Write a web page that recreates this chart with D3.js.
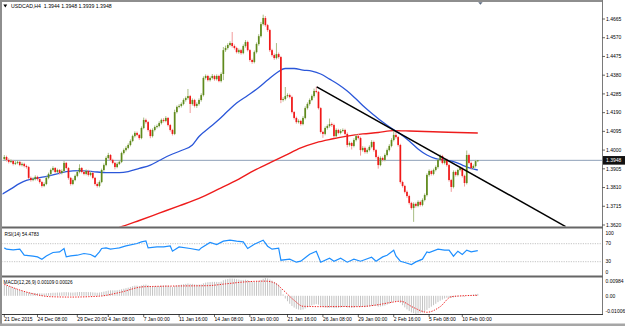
<!DOCTYPE html>
<html><head><meta charset="utf-8">
<script src="https://cdn.jsdelivr.net/npm/d3@7"></script>
<style>
html,body{margin:0;padding:0;background:#fff;overflow:hidden}
text{font-family:"Liberation Sans",Arial,sans-serif;}
</style>
</head><body>
<svg id="c" width="625" height="326"></svg>
<script>
// ---------------- DATA ----------------
const symbol = "USDCAD,H4";
const firstOpen = 1.3955;
const closes = [1.3965,1.3950,1.3940,1.3945,1.3930,1.3935,1.3940,1.3924,1.3930,1.3919,
1.3914,1.3859,1.3848,1.3853,1.3864,1.3853,1.3838,1.3818,1.3828,1.3859,
1.3879,1.3899,1.3909,1.3889,1.3899,1.3884,1.3894,1.3935,1.3909,1.3859,
1.3828,1.3848,1.3869,1.3889,1.3909,1.3889,1.3879,1.3894,1.3874,1.3884,
1.3859,1.3828,1.3818,1.3838,1.3899,1.3924,1.3960,1.3975,1.3950,1.3935,
1.3914,1.3930,1.3940,1.3985,1.4000,1.4011,1.4026,1.4046,1.4071,1.4087,
1.4077,1.4061,1.4112,1.4153,1.4142,1.4102,1.4071,1.4102,1.4117,1.4122,
1.4137,1.4153,1.4148,1.4163,1.4127,1.4102,1.4082,1.4193,1.4219,1.4224,
1.4234,1.4254,1.4264,1.4274,1.4234,1.4254,1.4224,1.4234,1.4254,1.4279,
1.4366,1.4376,1.4355,1.4366,1.4376,1.4360,1.4376,1.4350,1.4386,1.4507,
1.4518,1.4533,1.4543,1.4528,1.4518,1.4497,1.4507,1.4492,1.4528,1.4548,
1.4507,1.4457,1.4447,1.4497,1.4538,1.4578,1.4639,1.4670,1.4634,1.4609,
1.4507,1.4482,1.4467,1.4487,1.4472,1.4254,1.4259,1.4274,1.4279,1.4269,
1.4193,1.4163,1.4142,1.4148,1.4132,1.4163,1.4213,1.4234,1.4254,1.4274,
1.4300,1.4295,1.4213,1.4092,1.4082,1.4112,1.4122,1.4132,1.4127,1.4071,
1.4102,1.4087,1.4097,1.4102,1.4082,1.4026,1.4036,1.4021,1.4051,1.4071,
1.4061,1.4000,1.4011,1.3990,1.4000,1.4016,1.4041,1.4000,1.3965,1.3924,
1.3960,1.3950,1.3975,1.4000,1.4021,1.4051,1.4077,1.4066,1.4026,1.3838,
1.3818,1.3788,1.3767,1.3732,1.3706,1.3727,1.3717,1.3737,1.3722,1.3747,
1.3772,1.3874,1.3894,1.3879,1.3899,1.3914,1.3950,1.3970,1.3935,1.3950,
1.3924,1.3848,1.3813,1.3889,1.3874,1.3899,1.3909,1.3869,1.3833,1.3975,
1.3935,1.3909,1.3919,1.3944,1.3948];
const highs = [1.3975,1.3972,1.3958,1.3953,1.3950,1.3944,1.3949,1.3946,1.3938,1.3936,
1.3926,1.3920,1.3866,1.3862,1.3872,1.3870,1.3858,1.3844,1.3836,1.3866,
1.3886,1.3906,1.3918,1.3914,1.3906,1.3904,1.3902,1.3945,1.3940,1.3914,
1.3864,1.3856,1.3876,1.3896,1.3928,1.3914,1.3896,1.3902,1.3900,1.3892,
1.3890,1.3864,1.3836,1.3846,1.3906,1.3932,1.3968,1.3986,1.3980,1.3956,
1.3940,1.3938,1.3948,1.3992,1.4008,1.4020,1.4034,1.4054,1.4078,1.4095,
1.4094,1.4082,1.4120,1.4165,1.4160,1.4148,1.4108,1.4110,1.4125,1.4130,
1.4146,1.4160,1.4162,1.4172,1.4168,1.4133,1.4108,1.4205,1.4226,1.4233,
1.4242,1.4262,1.4272,1.4310,1.4280,1.4262,1.4260,1.4242,1.4262,1.4288,
1.4374,1.4384,1.4382,1.4374,1.4386,1.4382,1.4384,1.4382,1.4394,1.4523,
1.4530,1.4542,1.4552,1.4599,1.4536,1.4524,1.4515,1.4514,1.4536,1.4558,
1.4555,1.4512,1.4464,1.4505,1.4546,1.4588,1.4650,1.4687,1.4680,1.4640,
1.4615,1.4514,1.4490,1.4543,1.4495,1.4478,1.4268,1.4320,1.4288,1.4286,
1.4276,1.4198,1.4170,1.4156,1.4154,1.4172,1.4222,1.4242,1.4262,1.4282,
1.4312,1.4322,1.4300,1.4218,1.4098,1.4120,1.4130,1.4160,1.4140,1.4134,
1.4110,1.4108,1.4106,1.4110,1.4108,1.4090,1.4044,1.4042,1.4060,1.4080,
1.4082,1.4068,1.4020,1.4018,1.4008,1.4024,1.4050,1.4048,1.4006,1.3972,
1.3968,1.3967,1.3983,1.4008,1.4030,1.4060,1.4100,1.4092,1.4072,1.4032,
1.3845,1.3824,1.3795,1.3774,1.3738,1.3735,1.3734,1.3745,1.3744,1.3755,
1.3780,1.3882,1.3902,1.3900,1.3906,1.3922,1.3958,1.3978,1.3976,1.3958,
1.3957,1.3930,1.3854,1.3897,1.3896,1.3906,1.3918,1.3915,1.3875,1.3998,
1.3982,1.3942,1.3927,1.3950,1.3948];
const lows = [1.3948,1.3942,1.3932,1.3934,1.3922,1.3924,1.3928,1.3918,1.3917,1.3912,
1.3906,1.3852,1.3840,1.3842,1.3846,1.3845,1.3830,1.3810,1.3812,1.3822,
1.3852,1.3872,1.3892,1.3882,1.3882,1.3876,1.3877,1.3888,1.3902,1.3850,
1.3820,1.3822,1.3842,1.3862,1.3882,1.3882,1.3872,1.3872,1.3866,1.3867,
1.3852,1.3820,1.3810,1.3811,1.3832,1.3892,1.3918,1.3953,1.3943,1.3928,
1.3902,1.3908,1.3924,1.3934,1.3978,1.3993,1.4004,1.4019,1.4040,1.4064,
1.4070,1.4052,1.4055,1.4106,1.4134,1.4094,1.4060,1.4064,1.4095,1.4110,
1.4115,1.4130,1.4140,1.4141,1.4120,1.4094,1.4074,1.4076,1.4186,1.4212,
1.4216,1.4227,1.4246,1.4256,1.4188,1.4226,1.4216,1.4214,1.4226,1.4246,
1.4272,1.4358,1.4348,1.4348,1.4358,1.4352,1.4353,1.4344,1.4343,1.4355,
1.4498,1.4510,1.4526,1.4520,1.4510,1.4490,1.4489,1.4484,1.4486,1.4520,
1.4500,1.4448,1.4438,1.4440,1.4490,1.4530,1.4571,1.4632,1.4626,1.4600,
1.4498,1.4474,1.4458,1.4460,1.4464,1.4238,1.4246,1.4252,1.4266,1.4262,
1.4186,1.4155,1.4134,1.4135,1.4124,1.4126,1.4156,1.4206,1.4226,1.4248,
1.4266,1.4288,1.4206,1.4084,1.4062,1.4075,1.4104,1.4114,1.4118,1.4062,
1.4064,1.4080,1.4080,1.4090,1.4074,1.4014,1.4018,1.4003,1.4014,1.4044,
1.4054,1.3972,1.3992,1.3982,1.3982,1.3993,1.4009,1.3992,1.3957,1.3906,
1.3918,1.3942,1.3943,1.3968,1.3993,1.4014,1.4044,1.4058,1.4018,1.3830,
1.3810,1.3780,1.3758,1.3724,1.3698,1.3636,1.3708,1.3710,1.3714,1.3715,
1.3740,1.3765,1.3866,1.3871,1.3872,1.3892,1.3906,1.3943,1.3928,1.3927,
1.3916,1.3840,1.3788,1.3806,1.3866,1.3867,1.3892,1.3861,1.3815,1.3826,
1.3927,1.3900,1.3902,1.3912,1.3939];

// Moving averages (bar index, price)
const maFastIdx = [-1,3,7,10,14,18,22,28,34,40,46,52,56,61,66,70,75,80,85,88,93,97,101,105,110,115,119,123,127,131,135,139,143,147,151,155,159,163,167,171,175,179,183,187,191,195,199,203,207,211,214];
const maFastVal = [1.3776,1.3803,1.3831,1.3846,1.3856,1.3864,1.3874,1.3891,1.3896,1.3891,1.3886,1.3886,1.3891,1.3907,1.3924,1.3947,1.3975,1.3998,1.4026,1.4069,1.4117,1.4155,1.4198,1.4239,1.4277,1.4317,1.4355,1.4391,1.4414,1.4414,1.4406,1.4401,1.4386,1.4360,1.4333,1.4300,1.4259,1.4216,1.4178,1.4142,1.4110,1.4082,1.4046,1.4006,1.3975,1.3957,1.3950,1.3942,1.3924,1.3907,1.3899];
const maSlowIdx = [45,52,61,70,79,88,97,106,113,120,127,134,141,148,155,162,169,176,183,190,197,205,214];
const maSlowVal = [1.3587,1.3608,1.3643,1.3680,1.3717,1.3755,1.3803,1.3853,1.3897,1.3935,1.3973,1.4011,1.4038,1.4056,1.4071,1.4082,1.4089,1.4099,1.4097,1.4094,1.4092,1.4089,1.4087];

// Trend line anchor points (bar index, price)
const trendIdx = [141.2, 253.7];
const trendVal = [1.4321, 1.3612];

// Price axis ticks
const priceTicks = [1.4665,1.4570,1.4475,1.4380,1.4285,1.4190,1.4095,1.4000,1.3905,1.3810,1.3715,1.3620];

// Time axis
const timeTickIdx = [0,15,33,47,63,79,95,111,128,144,160,176,192,207];
const timeTickLabels = ["21 Dec 2015","24 Dec 08:00","29 Dec 20:00","4 Jan 08:00","7 Jan 00:00","11 Jan 16:00","14 Jan 08:00","19 Jan 00:00","21 Jan 16:00","26 Jan 08:00","29 Jan 00:00","2 Feb 16:00","5 Feb 08:00","10 Feb 00:00"];

// RSI(14)
const rsiIdx = [0,1,4,7,9,13,15,17,19,22,25,27,28,30,33,36,39,41,43,44,46,48,50,52,55,60,62,64,65,69,72,75,76,79,84,88,89,93,96,99,102,105,108,110,113,117,119,121,124,125,129,132,134,138,141,143,147,149,152,155,158,161,166,168,171,173,176,177,179,181,184,186,189,191,192,196,199,201,203,205,207,209,211,214];
const rsiVal = [60.7,57.8,56.2,57.8,44.4,42.2,40.7,35.6,42.9,50.4,51.8,59.3,40.7,42.9,44.4,48.2,46.0,40.7,51.8,59.3,60.7,57.8,59.3,60.7,65.1,70.4,74.0,76.2,60.7,62.9,62.9,65.1,53.3,62.9,59.3,55.6,60.7,72.7,68.2,75.6,77.8,75.6,74.0,59.3,68.9,77.8,64.4,57.8,60.0,33.3,35.6,28.9,31.1,46.7,53.3,28.9,37.8,31.1,37.8,28.9,35.6,31.1,40.0,31.1,40.7,44.4,55.6,42.9,31.1,28.2,23.8,29.6,35.6,51.8,50.4,57.8,55.6,55.6,42.2,53.3,46.0,55.6,51.8,54.48];
const rsiLast = "54.4783";
const rsiLevels = [70, 30];
const rsiTicks = [100, 70, 30, 0];

// MACD(12,26,9)
const macdHist = [
0.0062,0.0058,0.0054,0.0050,0.0045,0.0040,0.0036,0.0031,0.0027,0.0023,0.0020,
0.0018,0.0017,0.0016,0.0015,0.0015,0.0014,
0.0013,0.0013,0.0014,0.0015,0.0016,0.0017,
0.0017,0.0018,0.0018,0.0019,0.0020,0.0020,0.0019,0.0018,
0.0018,0.0019,0.0020,0.0021,0.0021,0.0021,0.0021,0.0020,0.0020,0.0019,
0.0018,0.0017,0.0018,
0.0020,0.0023,0.0026,0.0029,0.0030,0.0030,0.0030,0.0031,0.0033,0.0036,0.0039,0.0042,
0.0045,0.0049,0.0053,0.0056,0.0056,0.0054,0.0057,0.0061,0.0062,0.0059,
0.0054,0.0053,0.0053,0.0053,0.0054,0.0056,0.0057,0.0058,0.0056,0.0052,0.0048,
0.0054,0.0058,0.0060,0.0062,0.0064,0.0066,0.0068,0.0066,0.0066,0.0063,0.0062,0.0062,0.0063,
0.0069,0.0073,0.0075,0.0076,0.0077,0.0077,0.0077,0.0076,0.0078,0.0086,
0.0090,0.0093,0.0095,0.0095,0.0094,0.0092,0.0090,0.0088,0.0088,0.0089,0.0087,
0.0082,0.0077,0.0076,0.0078,0.0082,0.0088,0.0094,0.00984,0.0096,
0.0090,0.0084,0.0077,0.0070,0.0062,0.0036,0.0008,
-0.0015,-0.0030,-0.0044,-0.0056,-0.0065,-0.0072,-0.0076,-0.0078,-0.0076,-0.0070,-0.0064,-0.0058,-0.0053,-0.0049,-0.0046,-0.0049,
-0.0056,-0.0062,-0.0065,-0.0066,-0.0066,-0.0065,-0.0068,-0.0068,
-0.0067,-0.0065,-0.0063,-0.0062,-0.0065,-0.0066,-0.0067,-0.0065,-0.0062,-0.0060,
-0.0062,-0.0062,-0.0063,-0.0062,-0.0060,-0.0056,-0.0055,-0.0056,-0.0060,-0.0059,
-0.0057,-0.0054,-0.0049,-0.0044,-0.0038,-0.0032,-0.0028,-0.0028,
-0.0040,-0.0052,-0.0064,-0.0075,-0.0084,-0.0092,-0.0096,-0.01006,-0.0098,-0.0096,-0.0093,-0.0088,
-0.0078,-0.0068,-0.0060,-0.0052,-0.0044,-0.0035,-0.0027,-0.0021,-0.0015,-0.0011,
-0.0010,-0.0012,-0.0009,-0.0007,-0.0005,-0.0003,-0.0003,-0.0005,0.0000,0.0003,0.0005,0.0007,0.0009,0.00109];
const sigIdx = [0,7,13,21,30,43,52,63,77,92,100,110,118,122,126,131,135,144,152,160,168,175,179,185,191,197,202,207,214];
const sigVal = [0.0064,0.0032,0.0011,-0.0005,-0.0007,-0.0002,0.0018,0.0050,0.0054,0.0056,0.0066,0.0078,0.0081,0.0072,0.0032,-0.0025,-0.0058,-0.0060,-0.0059,-0.0060,-0.0051,-0.0036,-0.0030,-0.0065,-0.0091,-0.0060,-0.0005,0.0000,0.00026];
const macdTicks = [0.00984, 0.00, -0.01006];
const macdTickLabels = ["0.00984", "0.00", "-0.01006"];
const macdLastMain = "0.00109", macdLastSignal = "0.00026";

// ---------------- DRAW ----------------
const svg = d3.select('#c');
const W = 625, H = 326;
const L = 2, R = 602.5;
const mainTop = 2, mainBot = 226.5, rsiTop = 228.5, rsiBot = 275.5, macdTop = 277.5, macdBot = 314.5;
const FS = 5;

const opens = closes.map((c, i) => i === 0 ? firstOpen : closes[i - 1]);
const bars = closes.map((c, i) => ({i, o: opens[i], h: highs[i], l: lows[i], c}));

const x = d3.scaleLinear().domain([0, 214]).range([4.3, 477.8]);
const y = d3.scaleLinear().domain([1.3620, 1.4665]).range([225, 19]);
const yR = d3.scaleLinear().domain([0, 100]).range([275.2, 230.2]);
const yM = d3.scaleLinear().domain([-0.01006, 0.00984]).range([314, 278]);

svg.append('rect').attr('width', W).attr('height', H).attr('fill', '#fff');

const defs = svg.append('defs');
function clip(id, y0, y1) {
  defs.append('clipPath').attr('id', id).append('rect')
    .attr('x', L + 0.5).attr('y', y0).attr('width', R - L - 0.5).attr('height', y1 - y0);
}
clip('cMain', mainTop, mainBot);
clip('cRsi', rsiTop, rsiBot);
clip('cMacd', macdTop, macdBot);

const gMain = svg.append('g').attr('clip-path', 'url(#cMain)');

// current price line
const lastBar = bars[bars.length - 1];
gMain.append('line').attr('x1', L).attr('x2', R).attr('y1', y(lastBar.c)).attr('y2', y(lastBar.c))
  .attr('stroke', '#8fa1b8').attr('stroke-width', 1);

// moving averages
const lineGen = d3.line().x(d => x(d[0])).y(d => y(d[1])).curve(d3.curveMonotoneX);
gMain.append('path').datum(maSlowIdx.map((d, k) => [d, maSlowVal[k]])).attr('d', lineGen)
  .attr('fill', 'none').attr('stroke', '#ee1c1c').attr('stroke-width', 1.4);
gMain.append('path').datum(maFastIdx.map((d, k) => [d, maFastVal[k]])).attr('d', lineGen)
  .attr('fill', 'none').attr('stroke', '#2b57d9').attr('stroke-width', 1.3);

// candles
const cg = gMain.append('g');
cg.selectAll('line.w').data(bars).join('line').attr('class', 'w')
  .attr('x1', d => x(d.i)).attr('x2', d => x(d.i))
  .attr('y1', d => y(d.h)).attr('y2', d => y(d.l))
  .attr('stroke', d => d.c >= d.o ? '#a9bd84' : '#f29a9a').attr('stroke-width', 1);
cg.selectAll('rect.b').data(bars).join('rect').attr('class', 'b')
  .attr('x', d => x(d.i) - 0.85).attr('width', 1.7)
  .attr('y', d => y(Math.max(d.o, d.c)))
  .attr('height', d => Math.max(0.7, Math.abs(y(d.o) - y(d.c))))
  .attr('fill', d => d.c >= d.o ? '#5f8a1c' : '#f01818');

// trend line
gMain.append('line')
  .attr('x1', x(trendIdx[0])).attr('y1', y(trendVal[0]))
  .attr('x2', x(trendIdx[1])).attr('y2', y(trendVal[1]))
  .attr('stroke', '#000').attr('stroke-width', 1.5);

// ---- RSI ----
const gR = svg.append('g').attr('clip-path', 'url(#cRsi)');
rsiLevels.forEach(v => gR.append('line').attr('x1', L).attr('x2', R).attr('y1', yR(v)).attr('y2', yR(v))
  .attr('stroke', '#b4b4b4').attr('stroke-width', 0.8).attr('stroke-dasharray', '1.2,1.2'));
gR.append('path').datum(rsiIdx.map((d, k) => [d, rsiVal[k]]))
  .attr('d', d3.line().x(d => x(d[0])).y(d => yR(d[1])))
  .attr('fill', 'none').attr('stroke', '#1e8fff').attr('stroke-width', 1.2);

// ---- MACD ----
const gM = svg.append('g').attr('clip-path', 'url(#cMacd)');
gM.selectAll('line.h').data(macdHist).join('line').attr('class', 'h')
  .attr('x1', (d, i) => x(i)).attr('x2', (d, i) => x(i))
  .attr('y1', yM(0)).attr('y2', d => yM(d))
  .attr('stroke', '#c3c3c3').attr('stroke-width', 1);
gM.append('path').datum(sigIdx.map((d, k) => [d, sigVal[k]]))
  .attr('d', d3.line().x(d => x(d[0])).y(d => yM(d[1])).curve(d3.curveMonotoneX))
  .attr('fill', 'none').attr('stroke', '#ee2020').attr('stroke-width', 1).attr('stroke-dasharray', '1.3,1.3');

// ---- frame ----
svg.append('rect').attr('x', 0).attr('y', 0).attr('width', 2).attr('height', H).attr('fill', '#8e8e8e');
svg.append('rect').attr('x', 0).attr('y', 0).attr('width', 603).attr('height', 2).attr('fill', '#8e8e8e');
svg.append('line').attr('x1', R).attr('x2', R).attr('y1', 0).attr('y2', macdBot).attr('stroke', '#7a7a7a').attr('stroke-width', 1);
svg.append('rect').attr('x', L).attr('y', mainBot).attr('width', R - L + 0.5).attr('height', 2).attr('fill', '#666');
svg.append('rect').attr('x', L).attr('y', rsiBot).attr('width', R - L + 0.5).attr('height', 2).attr('fill', '#666');
svg.append('line').attr('x1', L).attr('x2', R + 0.5).attr('y1', macdBot).attr('y2', macdBot).attr('stroke', '#3a3a3a').attr('stroke-width', 1);
svg.append('rect').attr('x', 0).attr('y', 323.5).attr('width', W).attr('height', 2.5).attr('fill', '#a6a6a6');

// ---- texts ----
const txt = (g, xx, yy, s, size, fill) => g.append('text').attr('x', xx).attr('y', yy)
  .attr('font-size', size || FS).attr('fill', fill || '#000').style('white-space', 'pre').text(s);

// title
svg.append('path').attr('d', 'M3.4,4.6 L7.2,4.6 L5.3,7.4 Z').attr('fill', '#000');
txt(svg, 11, 8.2, `${symbol}  ${lastBar.o.toFixed(4)} ${lastBar.h.toFixed(4)} ${lastBar.l.toFixed(4)} ${lastBar.c.toFixed(4)}`, 5.2);
// shift marker
svg.append('path').attr('d', 'M478.2,2.2 L482.6,2.2 L480.4,4.8 Z').attr('fill', '#5c6b80');

// price axis
priceTicks.forEach(v => {
  svg.append('line').attr('x1', R).attr('x2', R + 2.5).attr('y1', y(v)).attr('y2', y(v)).attr('stroke', '#000').attr('stroke-width', 0.6);
  txt(svg, 606, y(v), v.toFixed(4)).attr('dy', '0.35em');
});
// current price label
svg.append('rect').attr('x', 603).attr('y', y(lastBar.c) - 4.3).attr('width', 22).attr('height', 8.6).attr('fill', '#111');
txt(svg, 606, y(lastBar.c), lastBar.c.toFixed(4), FS, '#fff').attr('dy', '0.35em');

// RSI axis + label
rsiTicks.forEach(v => {
  const yy = Math.min(Math.max(yR(v), rsiTop + 4.5), rsiBot - 3.2);
  txt(svg, 605.5, yy, String(v)).attr('dy', '0.35em');
});
txt(svg, 4.5, 235.6, `RSI(14) ${rsiLast}`, 4.7);

// MACD axis + label
macdTicks.forEach((v, k) => {
  const yy = Math.min(Math.max(yM(v), macdTop + 3.5), macdBot - 3.5);
  txt(svg, 605.5, yy, macdTickLabels[k]).attr('dy', '0.35em');
});
txt(svg, 3.5, 284.2, `MACD(12,26,9) ${macdLastMain} ${macdLastSignal}`, 4.7);

// time axis
timeTickIdx.forEach((idx, k) => {
  const xx = Math.max(x(idx), 3.3);
  svg.append('line').attr('x1', xx).attr('x2', xx).attr('y1', macdBot).attr('y2', macdBot + 2.5).attr('stroke', '#000').attr('stroke-width', 0.6);
  txt(svg, xx, 321, timeTickLabels[k]);
});
</script>
</body></html>
